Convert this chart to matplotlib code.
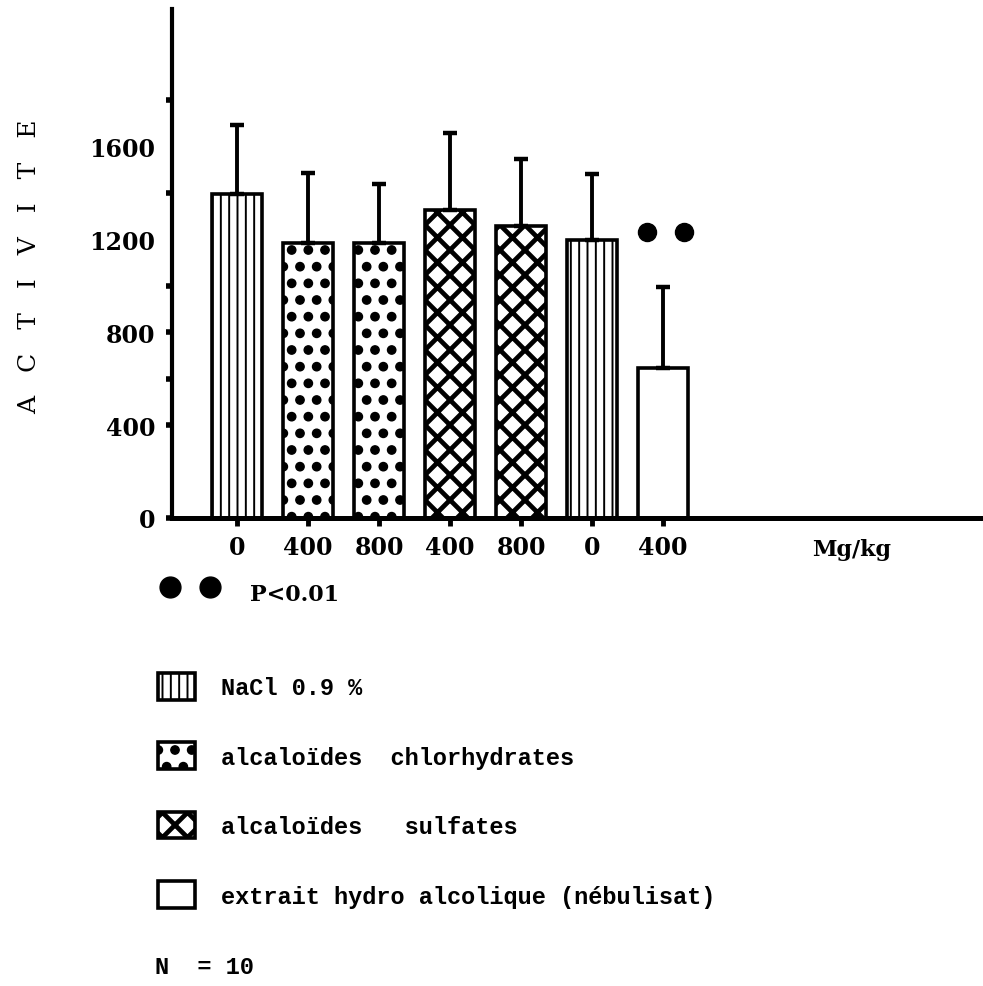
import matplotlib
matplotlib.use('Agg')
import matplotlib.pyplot as plt
import matplotlib.hatch as mhatch
from matplotlib.patches import Rectangle
from matplotlib.lines import Line2D
import numpy as np

# ---------------- data ----------------
dose_labels = ['0', '400', '800', '400', '800', '0', '400']
groups = ['nacl', 'chlor', 'chlor', 'sulf', 'sulf', 'nacl', 'extrait']
means = [1392, 1185, 1185, 1327, 1258, 1198, 647]
errors = [298, 301, 250, 331, 288, 284, 349]
significant = [False, False, False, False, False, False, True]
yticks = [0, 400, 800, 1200, 1600]
ydots = [0, 400, 600, 800, 1000, 1400, 1800]
legend_keys = ['nacl', 'chlor', 'sulf', 'extrait']
legend_labels = ['NaCl 0.9 %',
                 'alcaloïdes  chlorhydrates',
                 'alcaloïdes   sulfates',
                 'extrait hydro alcolique (nébulisat)']
unit_label = 'Mg/kg'
ylabel = 'A   C   T   I   V   I   T   E'
p_text = 'P<0.01'
n_text = 'N  = 10'

# ---------------- hatch tuning ----------------
mhatch.SmallFilledCircles.size = 0.25
_orig_get_path = mhatch.get_path
def _get_path(pattern, density=6):
    if pattern is not None and 'x' in pattern:
        density = 8
    return _orig_get_path(pattern, density)
mhatch.get_path = _get_path

styles = {
    'nacl':    dict(hatch='||', hlw=1.4),
    'chlor':   dict(hatch='.',  hlw=1.0),
    'sulf':    dict(hatch='x',  hlw=3.4),
    'extrait': dict(hatch=None, hlw=1.0),
}

serif = 'DejaVu Serif'
mono = 'Liberation Mono'

W, H = 983, 987
fig = plt.figure(figsize=(W / 100, H / 100), dpi=100)
ax = fig.add_axes([172 / W, 1 - 519 / H, (980 - 172) / W, (519 - 10) / H])

pos = np.arange(len(means))
for i in range(len(means)):
    st = styles[groups[i]]
    with plt.rc_context({'hatch.linewidth': st['hlw']}):
        b = ax.bar(pos[i], means[i], width=0.70, color='white',
                   edgecolor='black', linewidth=2.6, hatch=st['hatch'], zorder=2)
    for p in b:
        if hasattr(p, 'set_hatch_linewidth'):
            p.set_hatch_linewidth(st['hlw'])

ax.errorbar(pos, means, yerr=[np.zeros(len(errors)), errors], fmt='none',
            ecolor='black', elinewidth=2.8, capsize=5, capthick=3.2, zorder=3)

for i in range(len(means)):
    if significant[i]:
        ax.plot([pos[i] - 0.23, pos[i] + 0.29], [1232, 1232], 'o',
                color='black', ms=13, zorder=4)

ax.set_xlim(-0.915, 10.46)
ax.set_ylim(0, 2190)
for s in ['top', 'right']:
    ax.spines[s].set_visible(False)
ax.spines['left'].set_linewidth(3.0)
ax.spines['bottom'].set_linewidth(3.6)

ax.yaxis.remove_overlapping_locs = False
ax.set_yticks(yticks)
ax.set_yticklabels([str(v) for v in yticks], fontsize=17, family=serif,
                   weight='bold')
ax.set_yticks(ydots, minor=True)
ax.tick_params(axis='y', which='major', length=0, pad=12)
ax.tick_params(axis='y', which='minor', length=4, width=4, direction='out')
ax.set_xticks(pos)
ax.set_xticklabels(dose_labels, fontsize=17, family=serif, weight='bold')
ax.tick_params(axis='x', length=6, width=3.5, direction='out', pad=6)

fig.text(852 / W, 1 - 550 / H, unit_label, ha='center', va='center',
         fontsize=16, family=serif, weight='bold')
fig.text(30 / W, 1 - 267 / H, ylabel, rotation=90, ha='center', va='center',
         fontsize=18, family=serif)

# significance note
fig.add_artist(Line2D([170 / W, 210 / W], [1 - 588 / H, 1 - 588 / H],
                      transform=fig.transFigure, marker='o', ls='none',
                      color='black', ms=15))
fig.text(250 / W, 1 - 595 / H, p_text, ha='left', va='center',
         fontsize=16, family=serif, weight='bold')

# legend
handles = []
for k in legend_keys:
    st = styles[k]
    r = Rectangle((0, 0), 1, 1, facecolor='white', edgecolor='black',
                  linewidth=2.6, hatch=st['hatch'])
    handles.append(r)

leg = fig.legend(handles, legend_labels, loc='upper left',
                 bbox_to_anchor=(158 / W, 1 - 674 / H),
                 bbox_transform=fig.transFigure,
                 frameon=False, borderpad=0, borderaxespad=0,
                 handlelength=1.55, handleheight=1.35, handletextpad=1.1,
                 labelspacing=1.82,
                 prop={'family': mono, 'size': 17, 'weight': 'bold'})
for k, p in zip(legend_keys, leg.get_patches()):
    if hasattr(p, 'set_hatch_linewidth'):
        p.set_hatch_linewidth(styles[k]['hlw'])

fig.text(155 / W, 1 - 968 / H, n_text, ha='left', va='center',
         fontsize=17, family=mono, weight='bold')

fig.savefig('out.png', dpi=100, facecolor='white')
